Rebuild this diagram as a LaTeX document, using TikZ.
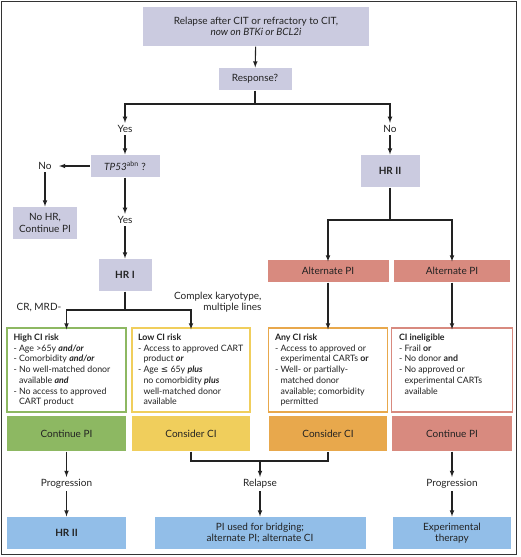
\documentclass[tikz,border=0pt]{standalone}
\usepackage{fontspec}
\setmainfont{Lato}
\newfontfamily\symfont{DejaVu Sans}
\definecolor{lav}{HTML}{CBCBE0}
\definecolor{sal}{HTML}{D88A7F}
\definecolor{grn}{HTML}{8DB862}
\definecolor{ylw}{HTML}{F0CE5C}
\definecolor{org}{HTML}{E8A84C}
\definecolor{blu}{HTML}{92BEE8}
\definecolor{ink}{HTML}{222222}
\newcommand{\bi}[1]{\textbf{\textit{#1}}}
\newcommand{\ind}{\phantom{- }}
\newcommand{\risktext}[1]{\parbox[c][72pt][t]{106pt}{\raggedright\fontsize{8.8}{10.7}\selectfont #1}}
\begin{document}
\begin{tikzpicture}[x=1pt,y=-1pt,line width=1.1pt,ink,
  lbl/.style={font=\fontsize{10}{11.5}\selectfont,inner sep=2pt,align=center},
  box/.style={fill=#1,inner sep=0pt,align=center,font=\fontsize{10}{11.5}\selectfont},
  riskbox/.style={draw=#1,line width=1.3pt,fill=white,inner sep=0pt,minimum height=84pt}]
\useasboundingbox (0,0) rectangle (520,557);
\draw[line width=1pt,black!80] (1,1) rectangle (516,554);
% top part
\node[box=lav,minimum width=226pt,minimum height=39pt] (start) at (256,26.5) {Relapse after CIT or refractory to CIT,\\\textit{now on BTKi or BCL2i}};
\node[box=lav,minimum width=73pt,minimum height=22pt] (resp) at (255,79) {Response?};
\coordinate (split1) at (255,104);
\node[lbl] (yes1) at (125,129) {Yes};
\node[lbl] (no1) at (390,129) {No};
\draw[-latex] (start) -- (resp);
\draw (resp) -- (split1);
\draw[-latex] (split1) -| (yes1.north);
\draw[-latex] (split1) -| (no1.north);
% left branch
\node[box=lav,minimum width=69pt,minimum height=22pt] (tp53) at (125,166) {\textit{TP53}\textsuperscript{abn} ?};
\node[lbl] (no2) at (45,166) {No};
\node[box=lav,minimum width=64pt,minimum height=32pt] (nohr) at (45,223) {No HR,\\Continue PI};
\node[lbl] (yes2) at (125,220) {Yes};
\node[box=lav,minimum width=53pt,minimum height=32pt,font=\fontsize{10}{11.5}\selectfont\bfseries] (hr1) at (125,275) {HR I};
\draw[-latex] (yes1) -- (tp53);
\draw[-latex,shorten >=5pt] (tp53) -- (no2);
\draw[-latex] (no2) -- (nohr);
\draw[-latex] (tp53) -- (yes2);
\draw[-latex] (yes2) -- (hr1);
% right branch
\node[box=lav,minimum width=59pt,minimum height=32pt,font=\fontsize{10}{11.5}\selectfont\bfseries] (hr2) at (390,171) {HR II};
\coordinate (split2) at (390,220);
\node[box=sal,minimum width=121pt,minimum height=22pt] (alt1) at (328,271) {Alternate PI};
\node[box=sal,minimum width=116pt,minimum height=22pt] (alt2) at (452,271) {Alternate PI};
\draw[-latex] (no1) -- (hr2);
\draw (hr2) -- (split2);
\draw[-latex] (split2) -| ([yshift=-2pt]alt1.north);
\draw[-latex] (split2) -| ([yshift=-2pt]alt2.north);
% risk groups
\coordinate (split3) at (125,310);
\node[lbl] (crmrd) at (39,308) {CR, MRD-};
\node[lbl,anchor=east,align=right] (ck) at (264,302) {Complex karyotype,\\multiple lines};
\node[riskbox=grn,minimum width=119pt] (high) at (66.5,370) {\risktext{\textbf{High CI risk}\\
- Age >65y \bi{and/or}\\
- Comorbidity \bi{and/or}\\
- No well-matched donor\\
\ind available \bi{and}\\
- No access to approved\\
\ind CART product}};
\node[riskbox=ylw,minimum width=118pt] (low) at (191,370) {\risktext{\textbf{Low CI risk}\\
- Access to approved CART\\
\ind product \bi{or}\\
- Age {\symfont ≤} 65y \bi{plus}\\
\ind no comorbidity \bi{plus}\\
\ind well-matched donor\\
\ind available}};
\node[riskbox=org,minimum width=119pt] (any) at (328,370) {\risktext{\textbf{Any CI risk}\\
- Access to approved or\\
\ind experimental CARTs \textbf{or}\\
- Well- or partially-\\
\ind matched donor\\
\ind available; comorbidity\\
\ind permitted}};
\node[riskbox=sal,minimum width=121pt] (inel) at (452,370) {\risktext{\textbf{CI ineligible}\\
- Frail \textbf{or}\\
- No donor \textbf{and}\\
- No approved or\\
\ind experimental CARTs\\
\ind available}};
\draw (hr1) -- (split3);
\draw[-latex] (split3) -| ([yshift=-2pt]high.north);
\draw[-latex] (split3) -| ([yshift=-2pt]low.north);
\draw[-latex] (alt1) -- ([yshift=-2pt]any.north);
\draw[-latex] (alt2) -- ([yshift=-2pt]inel.north);
% actions
\node[box=grn,minimum width=119pt,minimum height=35pt] (cont1) at (66.5,433.5) {Continue PI};
\node[box=ylw,minimum width=118pt,minimum height=35pt] (cons1) at (191,433.5) {Consider CI};
\node[box=org,minimum width=118pt,minimum height=35pt] (cons2) at (328,433.5) {Consider CI};
\node[box=sal,minimum width=120pt,minimum height=35pt] (cont2) at (452,433.5) {Continue PI};
% outcomes
\coordinate (merge) at (260,461);
\node[lbl] (prog1) at (66.5,484) {Progression};
\node[lbl] (relapse) at (260,484) {Relapse};
\node[lbl] (prog2) at (452,484) {Progression};
\node[box=blu,minimum width=119pt,minimum height=32pt,font=\fontsize{10}{11.5}\selectfont\bfseries] (hr2b) at (66.5,533) {HR II};
\node[box=blu,minimum width=211pt,minimum height=32pt] (bridge) at (260,533) {PI used for bridging;\\alternate PI; alternate CI};
\node[box=blu,minimum width=118pt,minimum height=32pt] (exper) at (452,533) {Experimental\\therapy};
\draw[-latex] (cont1) -- (prog1);
\draw[-latex] (prog1) -- (hr2b);
\draw (cons1.south) |- (merge) -| (cons2.south);
\draw[-latex] (merge) -- (relapse);
\draw[-latex] (relapse) -- (bridge);
\draw[-latex] (cont2) -- (prog2);
\draw[-latex] (prog2) -- (exper);
\end{tikzpicture}
\end{document}
